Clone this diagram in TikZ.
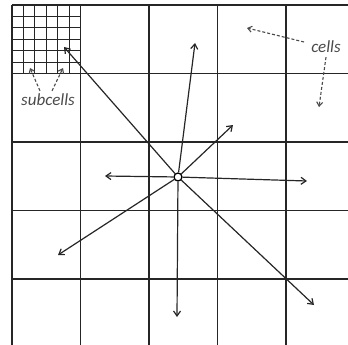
\documentclass[tikz,border=0pt]{standalone}
\usepackage{fontspec}
\setmainfont{Carlito}
\usetikzlibrary{arrows.meta}
\definecolor{lblgray}{HTML}{4A4A4A}

\begin{document}
\begin{tikzpicture}[x=1pt, y=-1pt,
      ar/.style={-{Straight Barb[length=5pt,width=7pt]}, line width=1.2pt, draw=black!85},
      da/.style={-{Straight Barb[length=4pt,width=6pt]}, dash pattern=on 3pt off 2pt, line width=1.1pt, draw=lblgray},
      lbl/.style={text=lblgray, font=\itshape\fontsize{17}{19}\selectfont, inner sep=1pt}]
    \useasboundingbox (0,0) rectangle (348,345);
    % subcells of the first cell
    \foreach \i in {1,...,5} {
      \draw[line width=1pt, black!85] ({12+\i*68.5/6},5) -- ({12+\i*68.5/6},73.5);
      \draw[line width=1pt, black!85] (12,{5+\i*68.5/6}) -- (80.5,{5+\i*68.5/6});
    }
    % cells
    \foreach \i in {0,...,4} {
      \draw[line width=1.5pt, black!85] ({12+\i*68.5},5) -- ({12+\i*68.5},345);
      \draw[line width=1.5pt, black!85] (12,{5+\i*68.5}) -- (348,{5+\i*68.5});
    }
    \node[circle, draw, fill=white, inner sep=0pt, minimum size=8pt, line width=1.3pt] (c) at (178,177) {};
    \coordinate (nw) at (64,47);   \coordinate (n) at (195,43);
    \coordinate (ne) at (233,125); \coordinate (w) at (105,176);
    \coordinate (e) at (307,181);  \coordinate (sw) at (58,255);
    \coordinate (s) at (177,317);  \coordinate (se) at (314,305);
    \foreach \t in {nw,n,ne,w,e,sw,s,se} \draw[ar] (c) -- (\t);
    % labels
    \node[lbl] (cl) at (326,47) {cells};
    \node[lbl] (scl) at (48,100) {subcells};
    \coordinate (cl1) at (247,28); \coordinate (cl2) at (319,107);
    \coordinate (scl1) at (30,68); \coordinate (scl2) at (63,68);
    \draw[da] ([xshift=-6pt,yshift=5pt]cl.west) -- (cl1);
    \draw[da] ([yshift=-3pt]cl.south) -- (cl2);
    \draw[da] ([xshift=-8pt,yshift=2pt]scl.north) -- (scl1);
    \draw[da] ([xshift=4pt,yshift=2pt]scl.north) -- (scl2);
  \end{tikzpicture}
\end{document}
